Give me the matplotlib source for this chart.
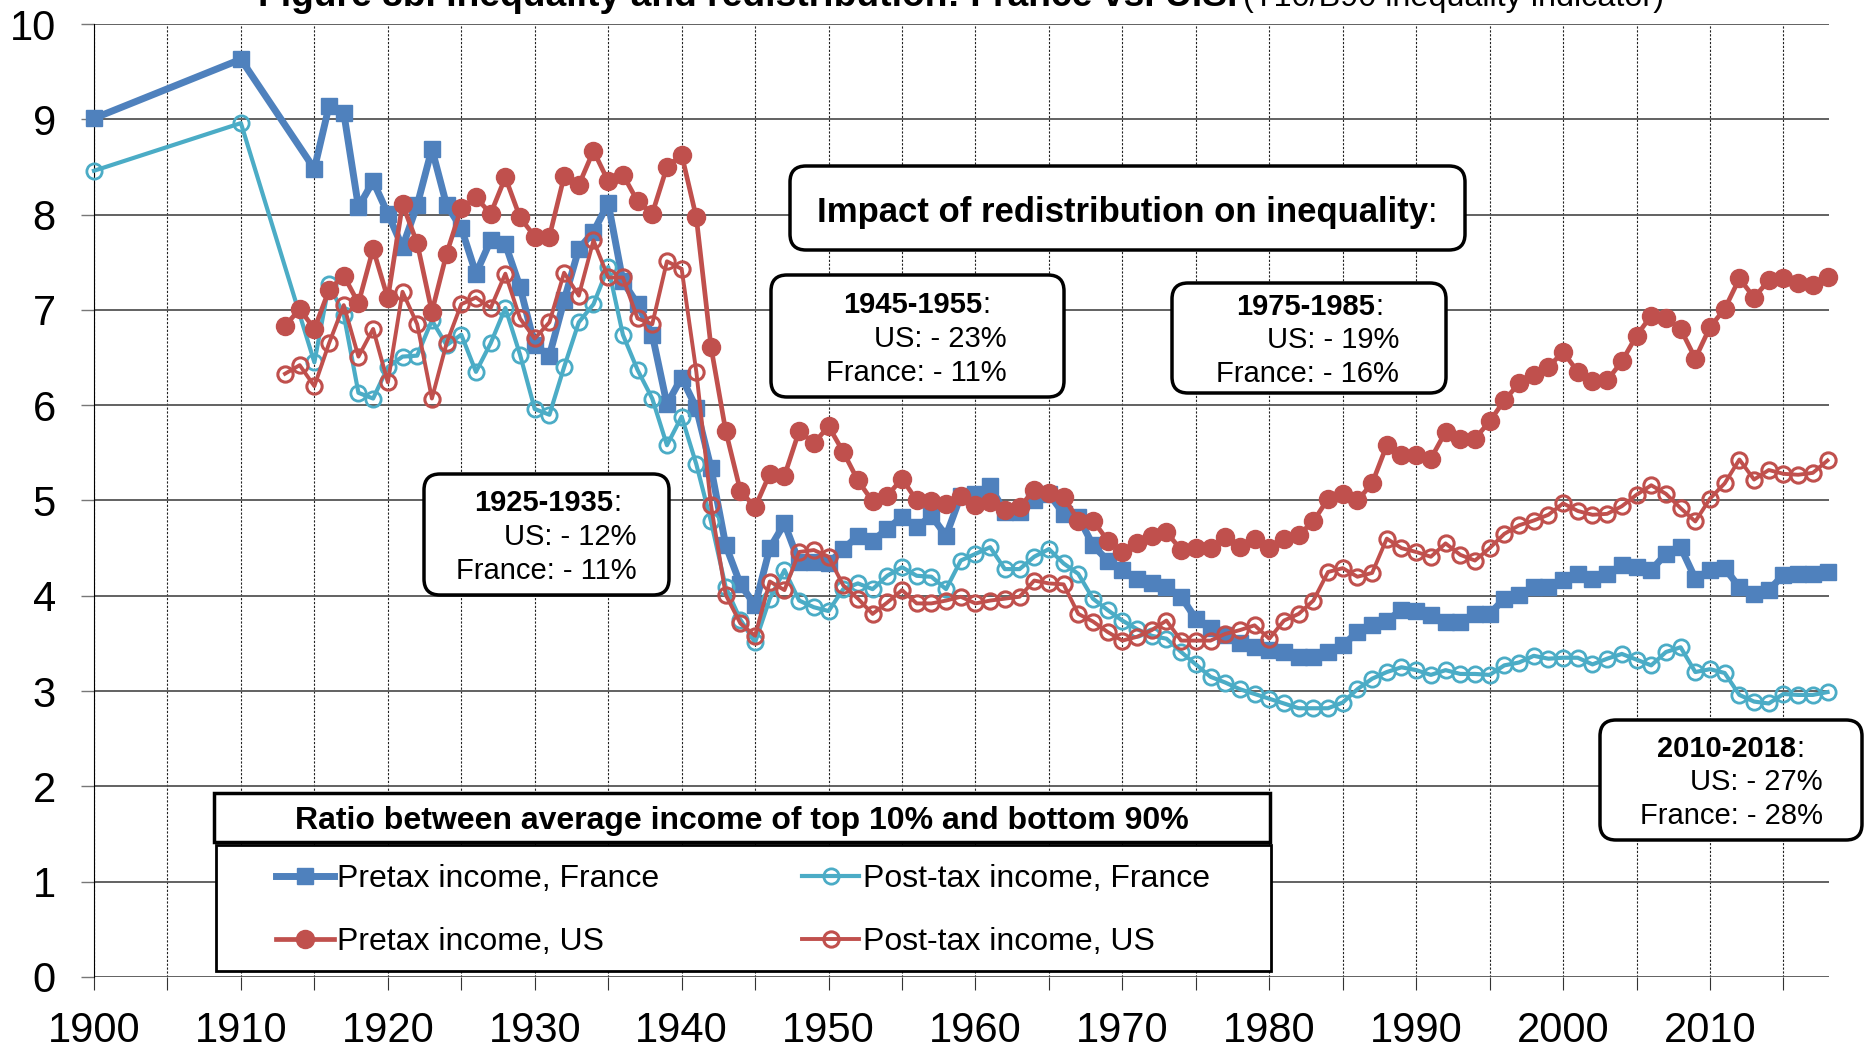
import matplotlib.pyplot as plt
from matplotlib.patches import FancyBboxPatch, Rectangle

plt.rcParams['font.family'] = ['Liberation Sans', 'DejaVu Sans']

# ---- data ----
years_fr = [1900, 1910] + list(range(1915, 2019))
years_us = list(range(1913, 2019))

pretax_fr = [9.01, 9.63,
             8.48, 9.14, 9.07, 8.08, 8.35, 8.01, 7.66, 8.10, 8.69, 8.10,
             7.86, 7.38, 7.73, 7.69, 7.24, 6.63, 6.52, 7.10, 7.64, 7.82,
             8.12, 7.30, 7.06, 6.74, 6.01, 6.29, 5.97, 5.34, 4.53, 4.12,
             3.90, 4.50, 4.76, 4.35, 4.35, 4.34, 4.49, 4.63, 4.58, 4.70,
             4.83, 4.72, 4.84, 4.63, 5.05, 5.07, 5.15, 4.88, 4.88, 5.00,
             5.07, 4.86, 4.83, 4.53, 4.37, 4.27, 4.18, 4.13, 4.09, 3.99,
             3.76, 3.66, 3.59, 3.50, 3.46, 3.43, 3.41, 3.36, 3.36, 3.41,
             3.48, 3.62, 3.69, 3.74, 3.85, 3.84, 3.80, 3.73, 3.73, 3.81,
             3.81, 3.97, 4.01, 4.09, 4.09, 4.17, 4.23, 4.18, 4.23, 4.32,
             4.30, 4.27, 4.44, 4.51, 4.18, 4.27, 4.29, 4.09, 4.02, 4.06,
             4.22, 4.23, 4.23, 4.25]

posttax_fr = [8.46, 8.96,
              6.45, 7.27, 6.95, 6.13, 6.07, 6.40, 6.51, 6.52, 6.89, 6.63,
              6.74, 6.35, 6.65, 7.02, 6.53, 5.96, 5.90, 6.40, 6.87, 7.06,
              7.45, 6.74, 6.37, 6.07, 5.58, 5.88, 5.38, 4.78, 4.09, 3.75,
              3.51, 3.97, 4.27, 3.95, 3.88, 3.84, 4.07, 4.13, 4.07, 4.21,
              4.30, 4.21, 4.20, 4.07, 4.37, 4.44, 4.51, 4.28, 4.28, 4.41,
              4.49, 4.34, 4.23, 3.97, 3.85, 3.74, 3.65, 3.58, 3.55, 3.41,
              3.28, 3.15, 3.09, 3.02, 2.97, 2.92, 2.87, 2.82, 2.82, 2.82,
              2.88, 3.02, 3.13, 3.20, 3.25, 3.22, 3.17, 3.22, 3.18, 3.18,
              3.17, 3.27, 3.30, 3.37, 3.34, 3.35, 3.35, 3.28, 3.34, 3.39,
              3.33, 3.27, 3.41, 3.46, 3.20, 3.23, 3.19, 2.96, 2.89, 2.87,
              2.97, 2.96, 2.96, 2.99]

pretax_us = [6.83, 7.01, 6.80, 7.21, 7.36, 7.07, 7.64, 7.12, 8.11, 7.70,
             6.98, 7.59, 8.07, 8.18, 8.01, 8.39, 7.97, 7.77, 7.77, 8.40,
             8.31, 8.67, 8.35, 8.42, 8.14, 8.01, 8.50, 8.63, 7.97, 6.61,
             5.73, 5.10, 4.93, 5.28, 5.26, 5.73, 5.60, 5.78, 5.51, 5.21,
             4.99, 5.05, 5.23, 5.00, 4.99, 4.96, 5.05, 4.95, 4.98, 4.90,
             4.93, 5.11, 5.08, 5.04, 4.79, 4.79, 4.58, 4.46, 4.55, 4.63,
             4.67, 4.48, 4.50, 4.50, 4.62, 4.51, 4.60, 4.50, 4.60, 4.64,
             4.78, 5.02, 5.07, 5.00, 5.18, 5.58, 5.48, 5.48, 5.44, 5.72,
             5.65, 5.65, 5.83, 6.05, 6.23, 6.32, 6.40, 6.56, 6.35, 6.25,
             6.26, 6.46, 6.73, 6.94, 6.91, 6.80, 6.49, 6.82, 7.01, 7.33,
             7.13, 7.31, 7.33, 7.28, 7.26, 7.34]

posttax_us = [6.33, 6.42, 6.20, 6.65, 7.05, 6.51, 6.80, 6.24, 7.19, 6.85,
              6.07, 6.65, 7.06, 7.13, 7.02, 7.38, 6.91, 6.70, 6.87, 7.39,
              7.15, 7.73, 7.34, 7.34, 6.91, 6.85, 7.51, 7.43, 6.35, 4.95,
              4.01, 3.71, 3.58, 4.15, 4.06, 4.46, 4.48, 4.41, 4.11, 3.97,
              3.81, 3.93, 4.06, 3.92, 3.92, 3.95, 3.99, 3.92, 3.95, 3.97,
              3.99, 4.16, 4.13, 4.12, 3.81, 3.73, 3.62, 3.53, 3.57, 3.64,
              3.74, 3.53, 3.53, 3.53, 3.60, 3.64, 3.69, 3.55, 3.74, 3.81,
              3.95, 4.25, 4.29, 4.20, 4.24, 4.60, 4.50, 4.46, 4.41, 4.55,
              4.43, 4.37, 4.50, 4.65, 4.74, 4.79, 4.85, 4.97, 4.89, 4.85,
              4.86, 4.94, 5.06, 5.16, 5.07, 4.92, 4.78, 5.02, 5.18, 5.43,
              5.22, 5.32, 5.28, 5.27, 5.29, 5.42]

BLUE = '#4F81BD'
TEAL = '#4BACC6'
RED = '#C0504D'

W, H = 1864, 1048

fig = plt.figure(figsize=(W / 100, H / 100), dpi=100)
ax = fig.add_axes([94 / W, 1 - 977 / H, (1829 - 94) / W, (977 - 24) / H])

l1, = ax.plot(years_fr, pretax_fr, '-s', color=BLUE, lw=5, ms=11,
              label='Pretax income, France', clip_on=False, zorder=3)
l2, = ax.plot(years_fr, posttax_fr, '-o', color=TEAL, lw=3, ms=11, mfc='none',
              mew=2, label='Post-tax income, France', clip_on=False, zorder=4)
l3, = ax.plot(years_us, pretax_us, '-o', color=RED, lw=3.4, ms=13,
              label='Pretax income, US', clip_on=False, zorder=5)
l4, = ax.plot(years_us, posttax_us, '-o', color=RED, lw=2.8, ms=11, mfc='none',
              mew=2.2, label='Post-tax income, US', clip_on=False, zorder=6)

ax.set_xlim(1900, 2018.1)
ax.set_ylim(0, 10)
ax.set_xticks(range(1900, 2011, 10))
ax.set_xticks(range(1905, 2016, 10), minor=True)
ax.set_yticks(range(0, 11))
ax.set_axisbelow(True)
ax.grid(axis='x', which='both', ls=(0, (2, 1.5)), color='#222222', lw=0.8)
ax.grid(axis='y', color='#555555', lw=1.3)
ax.tick_params(axis='x', which='both', length=9.5, width=0.8, color='#333333',
               pad=15, labelsize=30)
ax.tick_params(axis='y', length=9.5, width=1, color='#777777', pad=18, labelsize=30)
for s in ['top', 'right', 'bottom']:
    ax.spines[s].set_visible(False)
ax.spines['left'].set_color('black')

# title, cut by the top edge as in the original
fig.text(1237 / W, 1 - 6 / H, 'Figure 8b. Inequality and redistribution: France vs. U.S.',
         ha='right', va='baseline', fontsize=26.8, fontweight='bold')
fig.text(1243 / W, 1 - 6 / H, '(T10/B90 inequality indicator)',
         ha='left', va='baseline', fontsize=23.3)


def rbox(x0, y0, x1, y1, lw=2.5, r=16):
    p = FancyBboxPatch((x0 / W, 1 - y1 / H), (x1 - x0) / W, (y1 - y0) / H,
                       boxstyle='round,pad=0,rounding_size=%f' % (r / W),
                       mutation_aspect=W / H, transform=fig.transFigure,
                       fc='white', ec='black', lw=lw, zorder=5)
    fig.add_artist(p)


def period(box, colon_x, base, right, title, lines, fs=21):
    rbox(*box)
    fig.text(colon_x / W, 1 - base[0] / H, title, ha='right', va='baseline',
             fontsize=fs, fontweight='bold', zorder=6)
    fig.text(colon_x / W, 1 - base[0] / H, ':', ha='left', va='baseline',
             fontsize=fs, zorder=6)
    for txt, b in zip(lines, base[1:]):
        fig.text(right / W, 1 - b / H, txt, ha='right', va='baseline',
                 fontsize=fs, zorder=6)


# headline box
rbox(790, 166, 1465, 250)
fig.text(1428 / W, 1 - 222 / H, 'Impact of redistribution on inequality',
         ha='right', va='baseline', fontsize=25, fontweight='bold', zorder=6)
fig.text(1428 / W, 1 - 222 / H, ':', ha='left', va='baseline', fontsize=25, zorder=6)

period((771, 275, 1064, 397), 982, (313, 347, 381), 1007,
       '1945-1955', ['US: - 23%', 'France: - 11%'])
period((1172, 283, 1446, 393), 1375, (315, 348, 382), 1399,
       '1975-1985', ['US: - 19%', 'France: - 16%'])
period((424, 474, 669, 595), 613, (511, 545, 579), 637,
       '1925-1935', ['US: - 12%', 'France: - 11%'])
period((1600, 720, 1862, 840), 1796, (757, 790, 824), 1823,
       '2010-2018', ['US: - 27%', 'France: - 28%'])

# legend with its title box
fig.add_artist(Rectangle((214 / W, 1 - 842 / H), (1270 - 214) / W, (842 - 793) / H,
                         transform=fig.transFigure, fc='white', ec='black', lw=2.5, zorder=5))
fig.text(742 / W, 1 - 829 / H, 'Ratio between average income of top 10% and bottom 90%',
         ha='center', va='baseline', fontsize=23, fontweight='bold', zorder=6)
fig.add_artist(Rectangle((216 / W, 1 - 971 / H), (1271 - 216) / W, (971 - 845) / H,
                         transform=fig.transFigure, fc='white', ec='black', lw=2, zorder=5))
leg = fig.legend(handles=[l1, l3, l2, l4], loc='upper left',
                 bbox_to_anchor=(276 / W, 1 - 864 / H), bbox_transform=fig.transFigure,
                 ncol=2, frameon=False, fontsize=23, handlelength=1.8,
                 handletextpad=0.1, columnspacing=4.48, labelspacing=1.03,
                 borderpad=0, borderaxespad=0)
leg.set_zorder(7)

fig.savefig('out.png', dpi=100)
